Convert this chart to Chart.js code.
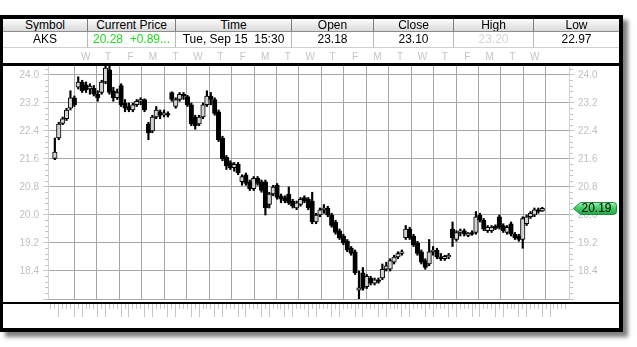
<!DOCTYPE html>
<html><head><meta charset="utf-8">
<script src="https://cdn.jsdelivr.net/npm/chart.js@4.4.1/dist/chart.umd.min.js"></script>
<style>
html,body{margin:0;padding:0;background:#fff;}
#wrap{position:relative;width:637px;height:347px;overflow:hidden;font-family:'Liberation Sans',Arial,sans-serif;}
#c{position:absolute;left:0;top:0;}
.frame{position:absolute;left:0;top:15px;width:623px;height:317px;box-sizing:border-box;border:4px solid #000;border-left-width:3px;box-shadow:5px 5px 4px rgba(0,0,0,0.5);pointer-events:none;}
.hline{position:absolute;left:3px;width:616px;background:#000;pointer-events:none;}
.row{position:absolute;left:3px;width:616px;display:flex;}
.row div{box-sizing:border-box;text-align:center;font-size:12px;white-space:pre;overflow:hidden;}
#r1{top:19px;height:13px;}
#r1 div{height:13px;line-height:12px;background:linear-gradient(#fbfbfb,#dadada);border-right:1px solid #7c7c7c;border-bottom:1px solid #8c8c8c;color:#000;}
#r2{top:32px;height:16px;}
#r2 div{height:16px;line-height:15px;background:#fff;border-right:1px solid #b8b8b8;border-bottom:1px solid #cfcfcf;color:#000;}
</style></head>
<body>
<div id="wrap">
  <canvas id="c" width="637" height="347"></canvas>
  <div class="row" id="r1"></div>
  <div class="row" id="r2"></div>
  <div class="hline" style="top:63px;height:3px;"></div>
  <div class="hline" style="top:302px;height:2px;"></div>
  <div class="frame"></div>
</div>
<script>
// ---- header table ----
const headerNames = ['Symbol', 'Current Price', 'Time', 'Open', 'Close', 'High', 'Low'];
const headerValues = ['AKS', '20.28  +0.89...', 'Tue, Sep 15  15:30', '23.18', '23.10', '23.20', '22.97'];
const headerValueColors = ['#000', '#19dd19', '#000', '#000', '#000', '#d4d4d4', '#000'];

// ---- day labels (top axis, one per day boundary) ----
const dayLabels = ['W','T','F','M','T','W','T','F','M','T','W','T','F','M','T','W','T','F','M','T','W'];

// ---- candles: 6 per day, 21 trading days ----
const opens = [
  21.62, 22.20, 22.62, 22.75, 23.05, 23.35,
  23.65, 23.80, 23.72, 23.60, 23.62, 23.45,
  23.50, 23.80, 24.15, 23.55, 23.35, 23.70,
  23.20, 23.10, 23.00, 23.15, 23.25, 23.30,
  22.60, 22.40, 22.80, 22.95, 22.85, 22.90,
  23.50, 23.10, 23.30, 23.45, 23.38, 23.15,
  22.80, 22.60, 22.80, 23.15, 23.40, 23.30,
  22.95, 22.20, 21.65, 21.50, 21.35, 21.45,
  20.95, 21.15, 20.95, 20.75, 21.05, 20.95,
  20.95, 20.30, 20.60, 20.85, 20.55, 20.50,
  20.60, 20.40, 20.20, 20.30, 20.50, 20.45,
  20.40, 19.80, 20.00, 20.15, 20.20, 20.00,
  19.80, 19.55, 19.40, 19.25, 19.05, 18.95,
  17.85, 18.35, 17.95, 18.20, 18.05, 18.15,
  18.20, 18.45, 18.45, 18.65, 18.80, 18.90,
  19.35, 19.60, 19.40, 19.20, 18.95, 18.70,
  18.60, 18.95, 19.00, 18.80, 18.75, 18.80,
  19.60, 19.30, 19.50, 19.55, 19.42, 19.50,
  19.50, 20.00, 19.85, 19.55, 19.55, 19.68,
  19.95, 19.70, 19.50, 19.75, 19.45, 19.40,
  19.30, 19.75, 19.95, 20.00, 20.15, 20.12
];
const highs = [
  22.20, 22.65, 22.80, 23.05, 23.55, 23.40,
  23.95, 23.85, 23.80, 23.75, 23.70, 23.55,
  23.85, 24.30, 24.30, 23.65, 23.60, 23.75,
  23.30, 23.20, 23.20, 23.30, 23.35, 23.32,
  22.65, 22.85, 23.10, 23.00, 23.00, 22.95,
  23.52, 23.35, 23.50, 23.50, 23.42, 23.20,
  22.85, 22.85, 23.20, 23.55, 23.50, 23.35,
  23.00, 22.25, 21.70, 21.55, 21.50, 21.50,
  21.15, 21.20, 21.00, 21.10, 21.10, 21.00,
  21.00, 20.65, 20.85, 20.90, 20.60, 20.55,
  20.80, 20.45, 20.40, 20.50, 20.55, 20.50,
  20.65, 20.05, 20.20, 20.30, 20.25, 20.05,
  19.85, 19.60, 19.45, 19.30, 19.10, 19.00,
  18.40, 18.50, 18.30, 18.25, 18.20, 18.20,
  18.60, 18.65, 18.75, 18.85, 18.95, 19.00,
  19.70, 19.65, 19.45, 19.25, 19.00, 18.75,
  19.30, 19.10, 19.05, 18.90, 18.85, 18.90,
  19.80, 19.55, 19.60, 19.60, 19.50, 19.55,
  20.10, 20.05, 19.90, 19.70, 19.70, 19.72,
  20.00, 19.75, 19.70, 19.80, 19.50, 19.45,
  19.95, 20.00, 20.10, 20.20, 20.20, 20.22
];
const lows = [
  21.58, 22.15, 22.58, 22.70, 23.00, 23.10,
  23.60, 23.50, 23.50, 23.45, 23.40, 23.25,
  23.45, 23.75, 23.45, 23.25, 23.30, 23.10,
  22.95, 22.95, 22.95, 23.10, 23.15, 22.95,
  22.15, 22.35, 22.75, 22.75, 22.80, 22.80,
  23.25, 23.05, 23.25, 23.30, 23.10, 22.55,
  22.45, 22.55, 22.75, 23.10, 23.15, 22.85,
  22.10, 21.55, 21.30, 21.30, 21.25, 21.15,
  20.85, 20.85, 20.70, 20.70, 20.85, 20.65,
  20.00, 20.20, 20.55, 20.45, 20.35, 20.35,
  20.30, 20.20, 20.15, 20.25, 20.35, 20.15,
  19.75, 19.75, 19.95, 20.05, 19.95, 19.65,
  19.45, 19.30, 19.15, 18.95, 18.85, 18.30,
  17.55, 17.85, 17.90, 18.00, 18.00, 18.05,
  18.15, 18.40, 18.40, 18.60, 18.75, 18.85,
  19.30, 19.30, 19.10, 18.85, 18.60, 18.45,
  18.55, 18.85, 18.75, 18.70, 18.70, 18.75,
  19.10, 19.25, 19.40, 19.40, 19.38, 19.42,
  19.45, 19.80, 19.55, 19.50, 19.50, 19.58,
  19.60, 19.50, 19.45, 19.40, 19.30, 19.25,
  19.05, 19.70, 19.90, 19.95, 20.05, 20.10
];
const closes = [
  21.80, 22.60, 22.75, 23.00, 23.35, 23.15,
  23.80, 23.55, 23.58, 23.68, 23.45, 23.35,
  23.80, 24.20, 23.50, 23.35, 23.50, 23.15,
  23.05, 23.00, 23.15, 23.25, 23.30, 23.00,
  22.35, 22.80, 23.00, 22.85, 22.92, 22.85,
  23.30, 23.30, 23.45, 23.40, 23.15, 22.60,
  22.55, 22.80, 23.15, 23.40, 23.30, 22.90,
  22.15, 21.60, 21.40, 21.35, 21.45, 21.20,
  21.10, 20.90, 20.75, 21.05, 20.90, 20.70,
  20.20, 20.60, 20.80, 20.50, 20.45, 20.40,
  20.35, 20.25, 20.35, 20.45, 20.40, 20.20,
  19.80, 20.00, 20.15, 20.20, 20.00, 19.70,
  19.50, 19.35, 19.20, 19.00, 18.90, 18.35,
  17.92, 17.90, 18.25, 18.05, 18.15, 18.10,
  18.45, 18.55, 18.70, 18.80, 18.90, 18.95,
  19.60, 19.35, 19.15, 18.90, 18.65, 18.50,
  18.95, 19.00, 18.80, 18.75, 18.82, 18.85,
  19.35, 19.50, 19.55, 19.45, 19.48, 19.45,
  19.95, 19.85, 19.60, 19.65, 19.65, 19.62,
  19.65, 19.55, 19.65, 19.45, 19.35, 19.30,
  19.90, 19.95, 20.05, 20.15, 20.10, 20.19
];

// ---- axis settings ----
const SLOTS_PER_DAY = 6;
const X_MIN = -1.25, X_MAX = 131.36;
const Y_MIN = 17.6, Y_MAX = 24.2857, Y_STEP = 0.16, Y_MAJOR_EVERY = 5;

// build header
const r1 = document.getElementById('r1'), r2 = document.getElementById('r2');
const colW = [85, 88, 116, 82, 80, 80, 85];
headerNames.forEach((name, i) => {
  const a = document.createElement('div');
  a.style.width = colW[i] + 'px'; a.textContent = name;
  if (i === headerNames.length - 1) a.style.borderRight = 'none';
  r1.appendChild(a);
  const b = document.createElement('div');
  b.style.width = colW[i] + 'px'; b.textContent = headerValues[i];
  b.style.color = headerValueColors[i];
  if (i === headerNames.length - 1) b.style.borderRight = 'none';
  r2.appendChild(b);
});

const FONT = "'Liberation Sans', Arial, sans-serif";
Chart.defaults.font.family = FONT;

const yTicks = [];
for (let k = 0; Y_MIN + k * Y_STEP <= Y_MAX; k++) {
  yTicks.push({ value: +(Y_MIN + k * Y_STEP).toFixed(2), major: k % Y_MAJOR_EVERY === 0, k });
}
const bottomTicks = [];
for (let d = 0; d <= dayLabels.length; d++) {
  for (let j = 0; j < SLOTS_PER_DAY; j++) {
    const v = d * SLOTS_PER_DAY - 0.5 + j;
    if (v < X_MIN || v > X_MAX) continue;
    bottomTicks.push({ value: v, major: (j === 0 && d > 0) || j === 2 });
  }
}
const dayTicks = dayLabels.map((_, k) => ({ value: (k + 1) * SLOTS_PER_DAY - 0.5 }));

const wickData = opens.map((_, i) => ({ x: i, y: [lows[i], highs[i]] }));
const bodyData = opens.map((o, i) => ({ x: i, y: [o, closes[i]] }));

const tagPlugin = {
  id: 'lastTag',
  afterDraw(chart) {
    const { ctx, chartArea, scales } = chart;
    const v = closes[closes.length - 1];
    const py = Math.round(scales.y.getPixelForValue(v)) + 0.5;
    const x0 = chartArea.right + 4.5, x1 = x0 + 7, x2 = x0 + 43, h = 6;
    ctx.save();
    ctx.beginPath();
    ctx.moveTo(x0, py);
    ctx.lineTo(x1, py - h);
    ctx.lineTo(x2 - 3, py - h);
    ctx.quadraticCurveTo(x2, py - h, x2, py - h + 3);
    ctx.lineTo(x2, py + h - 3);
    ctx.quadraticCurveTo(x2, py + h, x2 - 3, py + h);
    ctx.lineTo(x1, py + h);
    ctx.closePath();
    const g = ctx.createLinearGradient(0, py - h, 0, py + h);
    g.addColorStop(0, '#a6f2b8');
    g.addColorStop(0.45, '#41d067');
    g.addColorStop(1, '#22a647');
    ctx.fillStyle = g;
    ctx.fill();
    ctx.strokeStyle = '#1d8c3c';
    ctx.lineWidth = 1;
    ctx.stroke();
    ctx.fillStyle = '#000';
    ctx.font = '12px ' + FONT;
    ctx.textAlign = 'center';
    ctx.textBaseline = 'middle';
    ctx.fillText(v.toFixed(2), (x0 + x2) / 2 + 1.5, py + 0.5);
    ctx.restore();
  }
};

const yLabel = (value) => {
  const k = Math.round((value - Y_MIN) / Y_STEP);
  return (k > 0 && k % Y_MAJOR_EVERY === 0) ? value.toFixed(1) : '';
};

new Chart(document.getElementById('c'), {
  type: 'bar',
  data: {
    datasets: [
      {
        label: 'body',
        data: bodyData,
        grouped: false,
        barThickness: 4.5,
        borderWidth: 1,
        borderColor: '#000',
        borderSkipped: false,
        backgroundColor: (ctx) => closes[ctx.dataIndex] >= opens[ctx.dataIndex] ? '#d2d2d2' : '#000'
      },
      {
        label: 'wick',
        data: wickData,
        grouped: false,
        barThickness: 1.5,
        borderWidth: 0,
        backgroundColor: '#000'
      }
    ]
  },
  options: {
    responsive: false,
    animation: false,
    events: [],
    layout: { padding: { left: 4, top: 48, right: 18, bottom: 18 } },
    plugins: { legend: { display: false }, tooltip: { enabled: false } },
    scales: {
      x: {
        type: 'linear', position: 'bottom', min: X_MIN, max: X_MAX,
        border: { display: false },
        grid: {
          drawOnChartArea: false, drawTicks: true, tickLength: 18,
          tickColor: '#c6c6c6', tickWidth: 1,
          tickBorderDash: (ctx) => (ctx.tick && ctx.tick.major) ? [0, 5, 13, 100] : [0, 5, 5, 100]
        },
        ticks: { autoSkip: false, maxRotation: 0, callback: () => '' },
        afterBuildTicks: (s) => { s.ticks = bottomTicks.map(t => ({ value: t.value, major: t.major })); },
        afterFit: (s) => { s.height = 30; }
      },
      xTop: {
        type: 'linear', position: 'top', min: X_MIN, max: X_MAX,
        border: { display: false },
        grid: { drawOnChartArea: true, drawTicks: false, color: '#a6a6a6', lineWidth: 1 },
        ticks: {
          autoSkip: false, maxRotation: 0, padding: 2, color: '#c4c4c4',
          font: { size: 10 },
          callback: (v, i) => dayLabels[i]
        },
        afterBuildTicks: (s) => { s.ticks = dayTicks.map(t => ({ value: t.value })); },
        afterFit: (s) => { s.height = 17; }
      },
      y: {
        type: 'linear', position: 'left', min: Y_MIN, max: Y_MAX,
        border: { display: true, color: '#d0d0d0' },
        grid: {
          color: (ctx) => (ctx.tick && ctx.tick.major) ? '#a6a6a6' : 'rgba(0,0,0,0)',
          tickColor: '#c4c4c4', tickLength: 5,
          tickBorderDash: (ctx) => (ctx.tick && ctx.tick.major) ? [] : [0, 2, 3, 10]
        },
        ticks: { autoSkip: false, padding: 4, color: '#c0c0c0', font: { size: 10 }, callback: yLabel },
        afterBuildTicks: (s) => { s.ticks = yTicks.map(t => ({ value: t.value, major: t.major })); },
        afterFit: (s) => { s.width = 44; }
      },
      y2: {
        type: 'linear', position: 'right', min: Y_MIN, max: Y_MAX,
        border: { display: true, color: '#d0d0d0' },
        grid: {
          drawOnChartArea: false,
          tickColor: '#c4c4c4', tickLength: 5,
          tickBorderDash: (ctx) => (ctx.tick && ctx.tick.major) ? [] : [3, 10]
        },
        ticks: { autoSkip: false, padding: 4, color: '#c0c0c0', font: { size: 10 }, callback: yLabel },
        afterBuildTicks: (s) => { s.ticks = yTicks.map(t => ({ value: t.value, major: t.major })); },
        afterFit: (s) => { s.width = 50; }
      }
    }
  },
  plugins: [tagPlugin]
});
</script>
</body></html>
